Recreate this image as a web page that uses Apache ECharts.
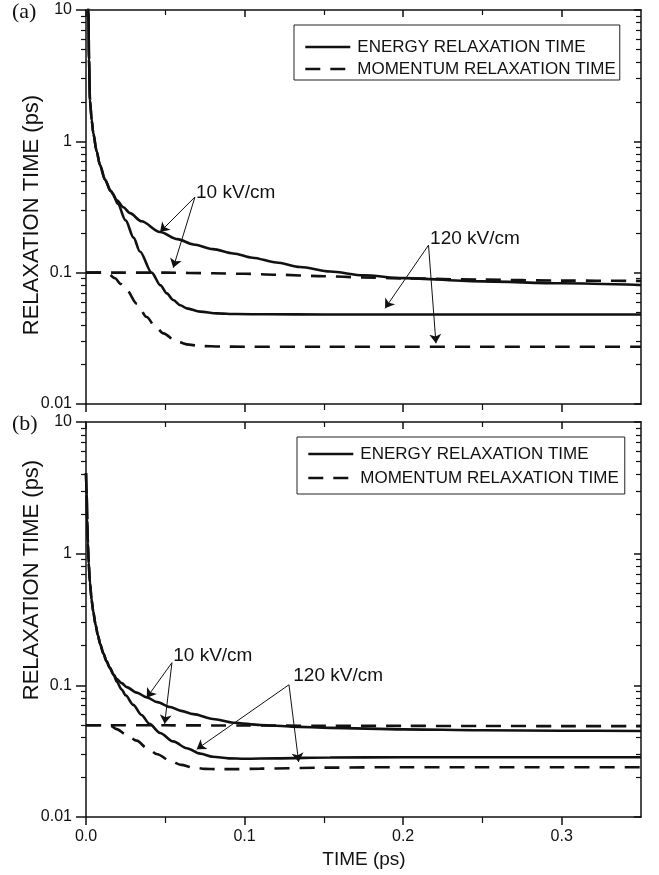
<!DOCTYPE html>
<html><head><meta charset="utf-8">
<script src="https://cdn.jsdelivr.net/npm/echarts@6/dist/echarts.min.js"></script>
<style>html,body{margin:0;padding:0;background:#fff;}#c{width:659px;height:875px;}</style>
</head><body><div id="c"></div>
<script>
// ---------- axis ticks ----------
const xTickValues = [0, 0.1, 0.2, 0.3];
const xTickLabels = ['0.0', '0.1', '0.2', '0.3'];
const xMinorValues = [0.05, 0.15, 0.25];
const yTickValues = [0.01, 0.1, 1, 10];
const yTickLabels = ['0.01', '0.1', '1', '10'];
const yMinorValues = [0.02, 0.03, 0.04, 0.05, 0.06, 0.07, 0.08, 0.09,
                      0.2, 0.3, 0.4, 0.5, 0.6, 0.7, 0.8, 0.9,
                      2, 3, 4, 5, 6, 7, 8, 9];
const seriesNames = ['ENERGY RELAXATION TIME', 'MOMENTUM RELAXATION TIME'];

// ---------- panel (a) ----------
const tEnergyA10 = [0, 0.0008, 0.0015, 0.0019, 0.0025, 0.0036, 0.0046, 0.0067, 0.0088, 0.012, 0.0155, 0.0195, 0.0235, 0.0277, 0.035, 0.0467, 0.0577, 0.0677, 0.080, 0.093, 0.105, 0.12, 0.135, 0.154, 0.175, 0.200, 0.250, 0.300, 0.350];
const vEnergyA10 = [40, 16, 10, 4.2, 2.05, 1.45, 1.15, 0.84, 0.66, 0.51, 0.42, 0.355, 0.315, 0.284, 0.246, 0.204, 0.180, 0.164, 0.151, 0.140, 0.130, 0.1195, 0.1105, 0.102, 0.0955, 0.0908, 0.0858, 0.083, 0.0805];
const tEnergyA120 = [0, 0.0008, 0.0015, 0.0019, 0.0025, 0.0036, 0.0046, 0.0067, 0.0088, 0.012, 0.0155, 0.0172, 0.020, 0.025, 0.030, 0.034, 0.0414, 0.047, 0.051, 0.055, 0.0595, 0.0635, 0.072, 0.0824, 0.095, 0.114, 0.15, 0.2, 0.25, 0.3, 0.35];
const vEnergyA120 = [40, 16, 10, 4.2, 2.05, 1.45, 1.15, 0.84, 0.66, 0.51, 0.42, 0.395, 0.335, 0.25, 0.185, 0.145, 0.100, 0.080, 0.0695, 0.062, 0.0565, 0.0535, 0.0505, 0.049, 0.0484, 0.0482, 0.048, 0.048, 0.048, 0.048, 0.048];
const tMomentumA10 = [0, 0.02, 0.05, 0.08, 0.10, 0.12, 0.15, 0.175, 0.2, 0.25, 0.3, 0.35];
const vMomentumA10 = [0.1, 0.1, 0.1, 0.099, 0.098, 0.0965, 0.094, 0.092, 0.0905, 0.0885, 0.087, 0.0865];
const tMomentumA120 = [0, 0.01, 0.014, 0.0183, 0.022, 0.0257, 0.032, 0.0383, 0.0435, 0.0488, 0.0572, 0.065, 0.072, 0.085, 0.1, 0.15, 0.2, 0.25, 0.3, 0.35];
const vMomentumA120 = [0.1, 0.1, 0.098, 0.0906, 0.082, 0.0736, 0.058, 0.046, 0.039, 0.0345, 0.0298, 0.0283, 0.0276, 0.0274, 0.0273, 0.0273, 0.0273, 0.0273, 0.0273, 0.0273];

// ---------- panel (b) ----------
const tEnergyB10 = [0, 0.0004, 0.0008, 0.0012, 0.0017, 0.0025, 0.0035, 0.0046, 0.006, 0.0075, 0.009, 0.011, 0.013, 0.015, 0.0175, 0.0193, 0.0225, 0.0257, 0.032, 0.0383, 0.045, 0.053, 0.06, 0.0677, 0.080, 0.093, 0.11, 0.13, 0.154, 0.2, 0.25, 0.3, 0.35];
const vEnergyB10 = [4.1, 2.8, 1.8, 1.2, 0.85, 0.60, 0.45, 0.36, 0.29, 0.24, 0.205, 0.174, 0.152, 0.136, 0.120, 0.112, 0.104, 0.097, 0.088, 0.081, 0.0745, 0.0685, 0.064, 0.0604, 0.0555, 0.052, 0.050, 0.0486, 0.0475, 0.0463, 0.0456, 0.0452, 0.045];
const tEnergyB120 = [0, 0.0004, 0.0008, 0.0012, 0.0017, 0.0025, 0.0035, 0.0046, 0.006, 0.0075, 0.009, 0.011, 0.013, 0.015, 0.0175, 0.0193, 0.0225, 0.025, 0.0298, 0.035, 0.040, 0.0467, 0.055, 0.0635, 0.072, 0.080, 0.09, 0.1, 0.12, 0.154, 0.2, 0.35];
const vEnergyB120 = [4.1, 2.8, 1.8, 1.2, 0.85, 0.60, 0.45, 0.36, 0.29, 0.24, 0.205, 0.174, 0.152, 0.136, 0.120, 0.107, 0.093, 0.084, 0.071, 0.0595, 0.051, 0.0435, 0.0375, 0.0333, 0.0303, 0.0287, 0.0279, 0.0277, 0.0279, 0.0283, 0.0284, 0.0284];
const tMomentumB10 = [0, 0.05, 0.1, 0.15, 0.2, 0.25, 0.3, 0.35];
const vMomentumB10 = [0.0497, 0.0497, 0.0495, 0.0493, 0.0492, 0.0491, 0.049, 0.049];
const tMomentumB120 = [0, 0.012, 0.016, 0.0193, 0.0257, 0.032, 0.0383, 0.045, 0.053, 0.06, 0.0677, 0.075, 0.0824, 0.095, 0.11, 0.15, 0.2, 0.25, 0.3, 0.35];
const vMomentumB120 = [0.0497, 0.0497, 0.049, 0.0465, 0.042, 0.038, 0.0335, 0.030, 0.0267, 0.0249, 0.0237, 0.0232, 0.0231, 0.0231, 0.0233, 0.0237, 0.0239, 0.0239, 0.0239, 0.0239];

// ---------- annotations (data coordinates) ----------
const labelsA = [['10 kV/cm', 0.0694, 0.406], ['120 kV/cm', 0.217, 0.182]];
const arrowsA = [[[0.0687, 0.377], [0.0467, 0.204]], [[0.0687, 0.377], [0.055, 0.109]],
                 [[0.216, 0.162], [0.1886, 0.0535]], [[0.216, 0.162], [0.2207, 0.029]]];
const labelsB = [['10 kV/cm', 0.055, 0.168], ['120 kV/cm', 0.1307, 0.118]];
const arrowsB = [[[0.0542, 0.1486], [0.0383, 0.0805]], [[0.0542, 0.1486], [0.0496, 0.051]],
                 [[0.128, 0.101], [0.0698, 0.0327]], [[0.128, 0.101], [0.1341, 0.0262]]];

const FONT = '"Liberation Sans", Arial, Helvetica, sans-serif';
const INK = '#111';

function xAxesFor(g, withLabels) {
  const base = { type: 'value', gridIndex: g, min: 0, max: 0.35, splitLine: { show: false } };
  const line = { show: true, onZero: false, lineStyle: { color: INK, width: 1.5 } };
  const noLine = { show: false, onZero: false };
  return [
    Object.assign({}, base, { position: 'bottom', axisLine: line,
      axisTick: { show: true, inside: false, length: 8, customValues: xTickValues, lineStyle: { color: INK, width: 1.5 } },
      axisLabel: withLabels ? { show: true, customValues: xTickValues, margin: 12, fontSize: 16, color: INK, fontFamily: FONT,
        formatter: v => xTickLabels[xTickValues.findIndex(x => Math.abs(x - v) < 1e-9)] } : { show: false } }),
    Object.assign({}, base, { position: 'bottom', axisLine: noLine,
      axisTick: { show: true, inside: false, length: 6, customValues: xMinorValues, lineStyle: { color: INK, width: 1.2 } },
      axisLabel: { show: false } }),
    Object.assign({}, base, { position: 'top', axisLine: line,
      axisTick: { show: true, inside: true, length: 7, customValues: xTickValues, lineStyle: { color: INK, width: 1.5 } },
      axisLabel: { show: false } }),
    Object.assign({}, base, { position: 'top', axisLine: noLine,
      axisTick: { show: true, inside: true, length: 5, customValues: xMinorValues, lineStyle: { color: INK, width: 1.2 } },
      axisLabel: { show: false } })
  ];
}
function yAxesFor(g) {
  const base = { type: 'log', logBase: 10, gridIndex: g, min: 0.01, max: 10, splitLine: { show: false } };
  const line = { show: true, onZero: false, lineStyle: { color: INK, width: 1.5 } };
  const noLine = { show: false, onZero: false };
  return [
    Object.assign({}, base, { position: 'left', axisLine: line,
      axisTick: { show: true, inside: false, length: 10, customValues: yTickValues, lineStyle: { color: INK, width: 1.5 } },
      axisLabel: { show: true, customValues: yTickValues, margin: 14, fontSize: 16, color: INK, fontFamily: FONT,
        formatter: v => { let best = 0; yTickValues.forEach((y, i) => { if (Math.abs(Math.log10(y) - Math.log10(v)) < Math.abs(Math.log10(yTickValues[best]) - Math.log10(v))) best = i; }); return yTickLabels[best]; } } }),
    Object.assign({}, base, { position: 'left', axisLine: noLine,
      axisTick: { show: true, inside: false, length: 5, customValues: yMinorValues, lineStyle: { color: INK, width: 1.2 } },
      axisLabel: { show: false } }),
    Object.assign({}, base, { position: 'right', axisLine: line,
      axisTick: { show: true, inside: true, length: 7, customValues: yTickValues, lineStyle: { color: INK, width: 1.5 } },
      axisLabel: { show: false } }),
    Object.assign({}, base, { position: 'right', axisLine: noLine,
      axisTick: { show: true, inside: true, length: 5, customValues: yMinorValues, lineStyle: { color: INK, width: 1.2 } },
      axisLabel: { show: false } })
  ];
}

function lineSeries(name, ts, vs, g, dashed, extra) {
  return Object.assign({
    type: 'line', name: name, xAxisIndex: g * 4, yAxisIndex: g * 4,
    data: ts.map((t, i) => [t, vs[i]]),
    symbol: 'none', showSymbol: false, smooth: 0.3, smoothMonotone: 'x', clip: true,
    color: INK,
    lineStyle: { color: INK, width: 2.6, type: dashed ? [15, 10] : 'solid' },
    silent: true, animation: false, z: 3
  }, extra || {});
}
function annotations(labels, arrows) {
  return {
    markLine: {
      silent: true, animation: false, symbol: ['none', 'arrow'], symbolSize: 9,
      lineStyle: { color: INK, width: 1, type: 'solid' },
      label: { show: false }, emphasis: { disabled: true },
      data: arrows.map(a => [{ coord: a[0] }, { coord: a[1] }])
    },
    markPoint: {
      silent: true, animation: false, symbol: 'circle', symbolSize: 0,
      itemStyle: { color: 'rgba(0,0,0,0)' },
      label: { show: true, position: 'right', distance: 0, formatter: '{b}', fontSize: 19, color: INK, fontFamily: FONT },
      data: labels.map(l => ({ name: l[0], coord: [l[1], l[2]] }))
    }
  };
}

const legendCommon = {
  orient: 'vertical', data: seriesNames, itemWidth: 45, itemHeight: 14,
  borderColor: '#222', borderWidth: 1, selectedMode: false,
  itemStyle: { opacity: 0 },
  lineStyle: { width: 2.6 },
  textStyle: { fontSize: 17, color: INK, fontFamily: FONT, lineHeight: 20, padding: [0, 0, 0, 2] }
};

const option = {
  backgroundColor: '#fff',
  animation: false,
  grid: [
    { left: 86, top: 10, width: 555, height: 394 },
    { left: 86, top: 422, width: 555, height: 395 }
  ],
  xAxis: xAxesFor(0, false).concat(xAxesFor(1, true)),
  yAxis: yAxesFor(0).concat(yAxesFor(1)),
  legend: [
    Object.assign({}, legendCommon, { left: 294, top: 25, padding: [12, 4, 1, 10], itemGap: 2 }),
    Object.assign({}, legendCommon, { left: 297, top: 437, padding: [7, 6, 6, 10], itemGap: 4 })
  ],
  series: [
    lineSeries(seriesNames[0], tEnergyA10, vEnergyA10, 0, false, annotations(labelsA, arrowsA)),
    lineSeries(seriesNames[0], tEnergyA120, vEnergyA120, 0, false),
    lineSeries(seriesNames[1], tMomentumA10, vMomentumA10, 0, true),
    lineSeries(seriesNames[1], tMomentumA120, vMomentumA120, 0, true),
    lineSeries(seriesNames[0], tEnergyB10, vEnergyB10, 1, false, annotations(labelsB, arrowsB)),
    lineSeries(seriesNames[0], tEnergyB120, vEnergyB120, 1, false),
    lineSeries(seriesNames[1], tMomentumB10, vMomentumB10, 1, true),
    lineSeries(seriesNames[1], tMomentumB120, vMomentumB120, 1, true)
  ],
  graphic: [
    { type: 'text', x: 12, y: 12, style: { text: '(a)', font: '22px "Liberation Serif", "Times New Roman", serif', fill: INK, align: 'left', verticalAlign: 'middle' } },
    { type: 'text', x: 12, y: 424, style: { text: '(b)', font: '22px "Liberation Serif", "Times New Roman", serif', fill: INK, align: 'left', verticalAlign: 'middle' } },
    { type: 'text', x: 32, y: 215, rotation: Math.PI / 2, style: { text: 'RELAXATION TIME (ps)', font: '22px ' + FONT, fill: INK, align: 'center', verticalAlign: 'middle' } },
    { type: 'text', x: 32, y: 580, rotation: Math.PI / 2, style: { text: 'RELAXATION TIME (ps)', font: '22px ' + FONT, fill: INK, align: 'center', verticalAlign: 'middle' } },
    { type: 'text', x: 364, y: 860, style: { text: 'TIME (ps)', font: '19px ' + FONT, fill: INK, align: 'center', verticalAlign: 'middle' } }
  ]
};

const chart = echarts.init(document.getElementById('c'), null, { renderer: 'canvas' });
chart.setOption(option);
</script>
</body></html>
